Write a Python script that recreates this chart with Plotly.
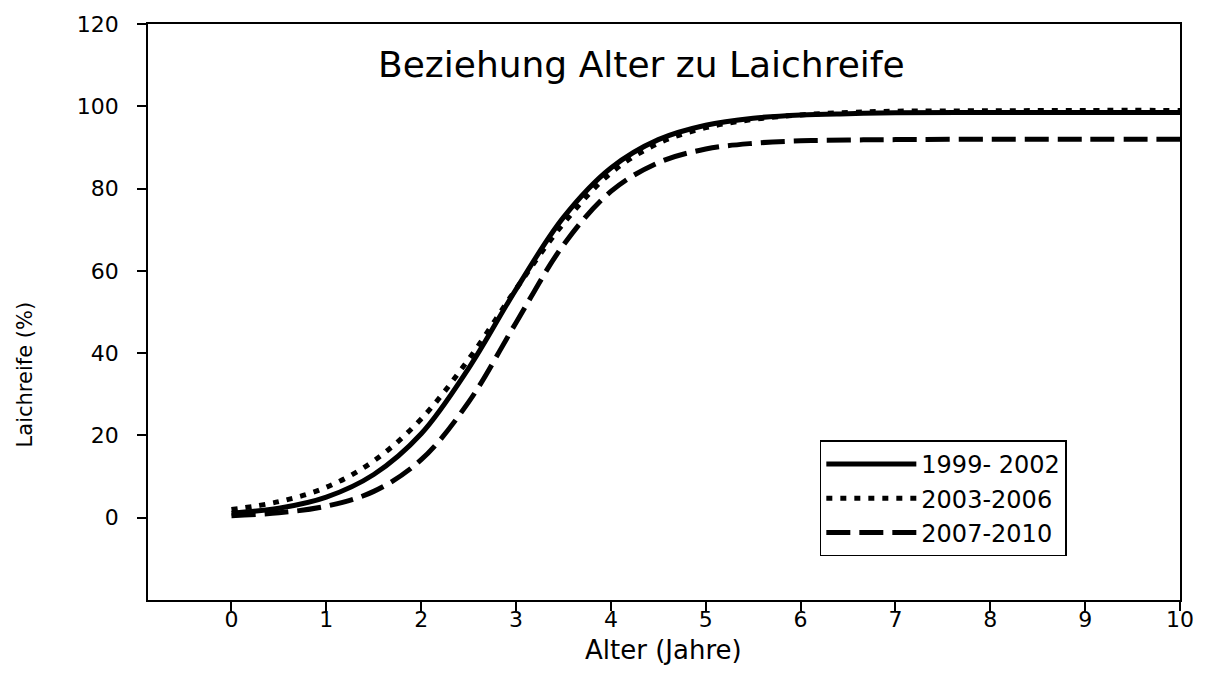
import plotly.graph_objects as go

# Alter in Jahren
alter = [0, 0.5, 1, 1.5, 2, 2.5, 3, 3.5, 4, 4.5, 5, 5.5, 6, 6.5, 7, 8, 9, 10]

# Anteil laichreifer Fische (%) je Zeitraum
reife_1999_2002 = [1.1, 2.3, 5.0, 10.5, 20.4, 36.3, 55.5, 73.0, 85.0, 91.9, 95.4, 97.1, 97.9, 98.2, 98.4, 98.5, 98.5, 98.5]
reife_2003_2006 = [2.0, 3.9, 7.4, 13.8, 24.0, 38.5, 55.6, 71.5, 83.8, 91.0, 94.8, 96.8, 97.9, 98.5, 98.8, 98.9, 99.0, 99.0]
reife_2007_2010 = [0.5, 1.2, 2.8, 6.4, 14.1, 28.1, 47.4, 66.3, 79.3, 86.3, 89.6, 91.0, 91.6, 91.8, 91.9, 92.0, 92.0, 92.0]

zeitraeume = ["1999- 2002", "2003-2006", "2007-2010"]
x_ticks = list(range(0, 11))
y_ticks = list(range(0, 121, 20))

font_family = "DejaVu Sans, Liberation Sans, Arial, sans-serif"

fig = go.Figure()
styles = [
    dict(dash="solid", width=5),
    dict(dash="6px,8px", width=5),
    dict(dash="24px,9px", width=5),
]
for name, werte, st in zip(zeitraeume, [reife_1999_2002, reife_2003_2006, reife_2007_2010], styles):
    fig.add_trace(go.Scatter(
        x=alter, y=werte, name=name, mode="lines",
        line=dict(color="black", width=st["width"], dash=st["dash"], shape="spline"),
    ))

axis_common = dict(
    showline=True, linecolor="black", linewidth=1.5, mirror=True,
    ticks="outside", ticklen=9, tickwidth=1.5, tickcolor="black",
    showgrid=False, zeroline=False,
    tickfont=dict(family=font_family, size=22, color="black"),
)

fig.update_layout(
    width=1206, height=686,
    margin=dict(l=148, r=23, t=18, b=86),
    paper_bgcolor="white", plot_bgcolor="white",
    font=dict(family=font_family, color="black"),
    xaxis=dict(
        range=[-0.88, 10], tickvals=x_ticks, ticktext=[str(v) for v in x_ticks],
        ticklabelstandoff=-10,
        **axis_common,
    ),
    yaxis=dict(
        range=[-20, 120], tickvals=y_ticks, ticktext=[str(v) for v in y_ticks],
        ticklabelstandoff=14,
        **axis_common,
    ),
    legend=dict(
        x=0.651, y=0.277, xanchor="left", yanchor="top",
        bordercolor="black", borderwidth=1.5, bgcolor="white",
        font=dict(family=font_family, size=24, color="black"),
        itemwidth=90, tracegroupgap=0,
    ),
    showlegend=True,
    annotations=[
        dict(
            text="Beziehung Alter zu Laichreife", xref="paper", yref="paper",
            x=0.478, y=0.93, xanchor="center", yanchor="middle", showarrow=False,
            font=dict(family=font_family, size=36, color="black"),
        ),
        dict(
            text="Alter (Jahre)", xref="paper", yref="paper",
            x=0.4995, y=-0.087, xanchor="center", yanchor="middle", showarrow=False,
            font=dict(family=font_family, size=26, color="black"),
        ),
        dict(
            text="Laichreife (%)", xref="paper", yref="paper", textangle=-90,
            x=-0.119, y=0.392, xanchor="center", yanchor="middle", showarrow=False,
            font=dict(family=font_family, size=21, color="black"),
        ),
    ],
)

fig.write_html("out.html")
